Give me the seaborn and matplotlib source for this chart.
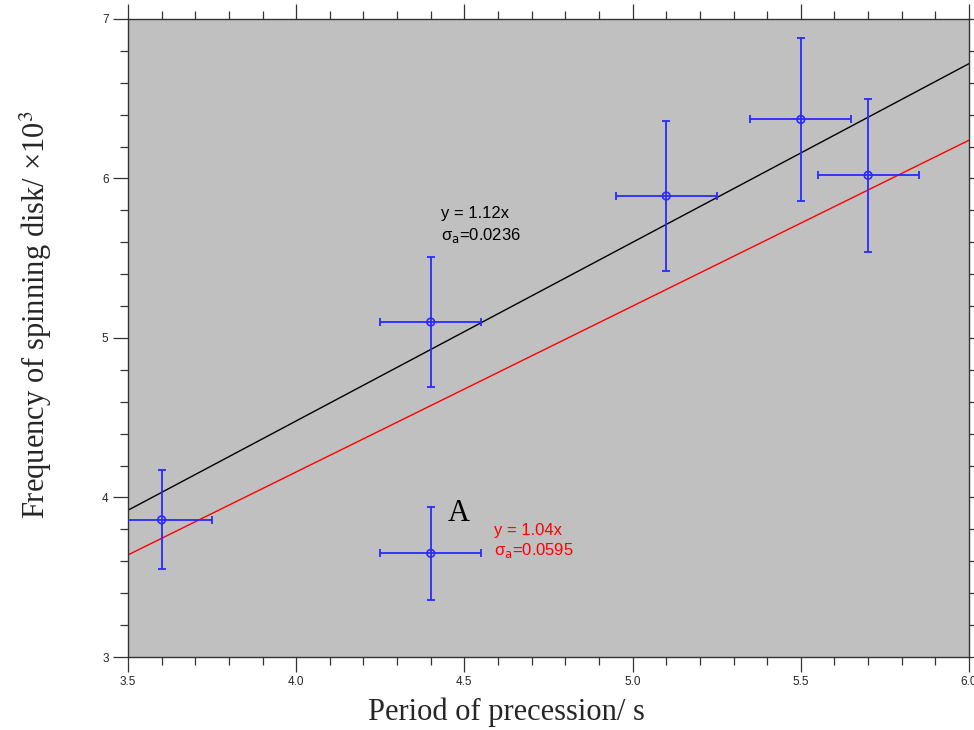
import numpy as np
import pandas as pd
import matplotlib
matplotlib.use("Agg")
import matplotlib.pyplot as plt
from matplotlib.ticker import MultipleLocator, FormatStrFormatter
import seaborn as sns

sns.set_style("white")
plt.rcParams['font.family'] = ['Liberation Sans', 'DejaVu Sans']
plt.rcParams['mathtext.fontset'] = 'stix'

# measured data (period in s, frequency x10^3)
period = [3.6, 4.4, 4.4, 5.1, 5.5, 5.7]
freq = [3.86, 3.65, 5.10, 5.89, 6.37, 6.02]
period_err = [0.15, 0.15, 0.15, 0.15, 0.15, 0.15]
freq_err = [0.31, 0.29, 0.41, 0.47, 0.51, 0.48]

# fitted slopes through origin
fit_slopes = [1.12, 1.04]
fit_colors = ['black', 'red']
fit_labels = ['y = 1.12x', 'y = 1.04x']
fit_sigmas = ['0.0236', '0.0595']

x_range = [3.5, 6.0]

df = pd.DataFrame({'period': period, 'freq': freq})

fig = plt.figure(figsize=(9.74, 7.30), dpi=100)
ax = fig.add_axes([0.1314, 0.100, 0.8635, 0.874])
ax.set_facecolor('#c0c0c0')

# fit lines
for slope, col in zip(fit_slopes, fit_colors):
    line_df = pd.DataFrame({'x': x_range, 'y': [slope * v for v in x_range]})
    sns.lineplot(data=line_df, x='x', y='y', color=col, linewidth=1.0, ax=ax)

# data with error bars
ax.errorbar(period, freq, xerr=period_err, yerr=freq_err, fmt='none',
            ecolor='#2a2aff', elinewidth=1.3, capsize=3, capthick=1.3, zorder=3)
sns.scatterplot(data=df, x='period', y='freq', marker='o', s=30,
                facecolor='none', edgecolor='#2a2aff', linewidth=1.2, ax=ax, zorder=4)

# fit annotations
ax.text(4.43, 5.78, fit_labels[0], color=fit_colors[0], fontsize=12, va='center', ha='left')
ax.text(4.43, 5.645, 'σ$_{\\rm a}$=' + fit_sigmas[0], color=fit_colors[0], fontsize=12,
        va='center', ha='left', math_fontfamily='dejavusans')
ax.text(4.588, 3.79, fit_labels[1], color=fit_colors[1], fontsize=12, va='center', ha='left')
ax.text(4.588, 3.67, 'σ$_{\\rm a}$=' + fit_sigmas[1], color=fit_colors[1], fontsize=12,
        va='center', ha='left', math_fontfamily='dejavusans')
ax.text(4.484, 3.90, 'A', fontsize=22, family='Liberation Serif', color='black',
        ha='center', va='center')

ax.set_xlim(3.5, 6.0)
ax.set_ylim(3, 7)
ax.xaxis.set_major_locator(MultipleLocator(0.5))
ax.xaxis.set_minor_locator(MultipleLocator(0.1))
ax.yaxis.set_major_locator(MultipleLocator(1))
ax.yaxis.set_minor_locator(MultipleLocator(0.2))
ax.xaxis.set_major_formatter(FormatStrFormatter('%.1f'))
ax.yaxis.set_major_formatter(FormatStrFormatter('%d'))
ax.tick_params(which='both', direction='out', top=True, right=True,
               bottom=True, left=True, color='#333333', width=0.9,
               labelsize=8.5, pad=3)
ax.tick_params(which='major', length=11)
ax.tick_params(which='minor', length=6)
ax.tick_params(top=True, right=True, labeltop=False, labelright=False)
for sp in ax.spines.values():
    sp.set_color('#333333')
    sp.set_linewidth(1.0)

ax.set_xlabel('Period of precession/ s', family='Liberation Serif', fontsize=22)
ax.set_ylabel('Frequency of spinning disk/ ×10$^3$', family='Liberation Serif', fontsize=22)
ax.xaxis.label.set_va('center')
ax.yaxis.label.set_va('center')
ax.xaxis.set_label_coords(0.45, -0.086)
ax.yaxis.set_label_coords(-0.11, 0.536)

fig.savefig('out.png', dpi=100, facecolor='white')
